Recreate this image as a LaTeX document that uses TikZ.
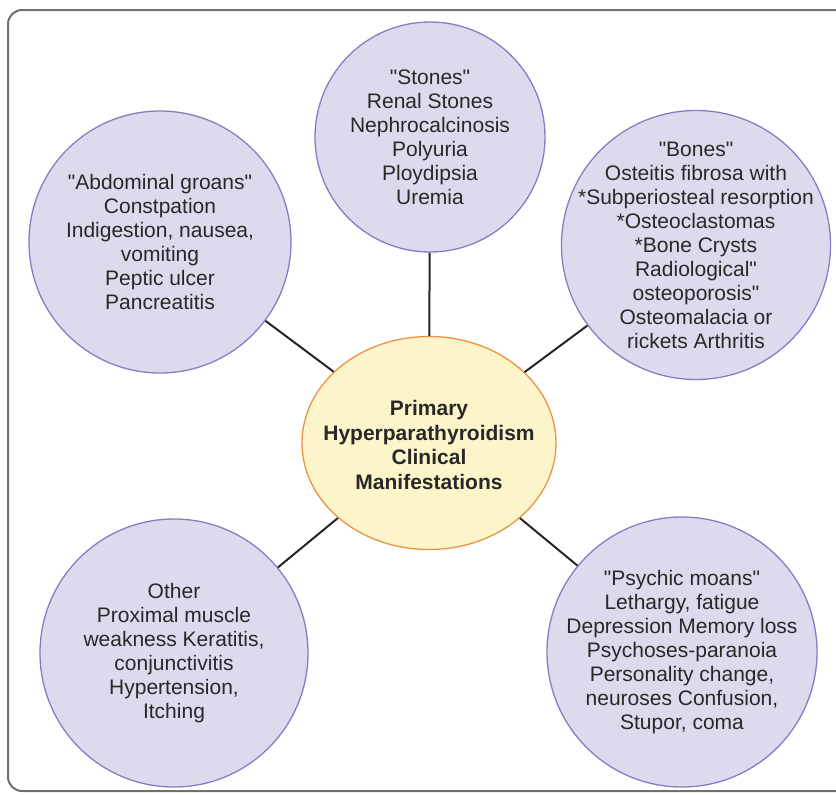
\documentclass[tikz,border=0pt]{standalone}
\usepackage{fontspec}
\setmainfont{Liberation Sans}[Ligatures=TeXOff]
\usetikzlibrary{shapes.geometric}
\definecolor{lavfill}{RGB}{222,218,238}
\definecolor{lavline}{RGB}{140,122,196}
\definecolor{yelfill}{RGB}{252,245,202}
\definecolor{orline}{RGB}{238,146,66}
\definecolor{txt}{RGB}{40,40,40}
\definecolor{frame}{RGB}{112,112,112}
\tikzset{
  topic/.style={circle, draw=lavline, fill=lavfill, line width=1.3pt, inner sep=0pt},
  topictext/.style={inner sep=0pt, align=center, text=txt, font=\fontsize{21}{24}\selectfont},
  hub/.style={ellipse, draw=orline, fill=yelfill, line width=1.3pt, inner sep=0pt,
    minimum width=254pt, minimum height=213pt},
  hubtext/.style={inner sep=0pt, align=center, text=txt,
    font=\fontsize{21}{24.5}\selectfont\bfseries},
  link/.style={draw=black!85, line width=2pt}
}
\begin{document}
\begin{tikzpicture}[x=1pt,y=-1pt]
\useasboundingbox (0,0) rectangle (836,795);
\fill[white] (0,0) rectangle (836,795);
\draw[frame, line width=2pt, rounded corners=14pt] (8,10) rectangle (850,791);

\node[hub] (hub) at (429,443) {};
\node[hubtext] (hubt) at (429,445) {Primary\\Hyperparathyroidism\\Clinical\\Manifestations};

\node[topic, minimum size=230pt] (stones) at (430,137) {};
\node[topictext] (stonest) at (stones.center)
  {"Stones"\\Renal Stones\\Nephrocalcinosis\\Polyuria\\Ploydipsia\\Uremia};
\node[topic, minimum size=262pt] (abd) at (160,242) {};
\node[topictext] (abdt) at (abd.center)
  {"Abdominal groans"\\Constpation\\Indigestion, nausea,\\vomiting\\Peptic ulcer\\Pancreatitis};
\node[topic, minimum size=269pt] (bones) at (696,245) {};
\node[topictext] (bonest) at (bones.center)
  {"Bones"\\Osteitis fibrosa with\\*Subperiosteal resorption\\*Osteoclastomas\\*Bone Crysts\\Radiological"\\osteoporosis"\\Osteomalacia or\\rickets Arthritis};
\node[topic, minimum size=268pt] (other) at (174,653) {};
\node[topictext] (othert) at (other.center)
  {Other\\Proximal muscle\\weakness Keratitis,\\conjunctivitis\\Hypertension,\\Itching};
\node[topic, minimum size=270pt] (psych) at (682,652) {};
\node[topictext] (psycht) at (psych.center)
  {"Psychic moans"\\Lethargy, fatigue\\Depression Memory loss\\Psychoses-paranoia\\Personality change,\\neuroses Confusion,\\Stupor, coma};

\draw[link] (stones) -- (hub);
\draw[link] (abd) -- (hub);
\draw[link] (bones) -- (hub);
\draw[link] (other) -- (hub);
\draw[link] (psych) -- (hub);
\end{tikzpicture}
\end{document}
